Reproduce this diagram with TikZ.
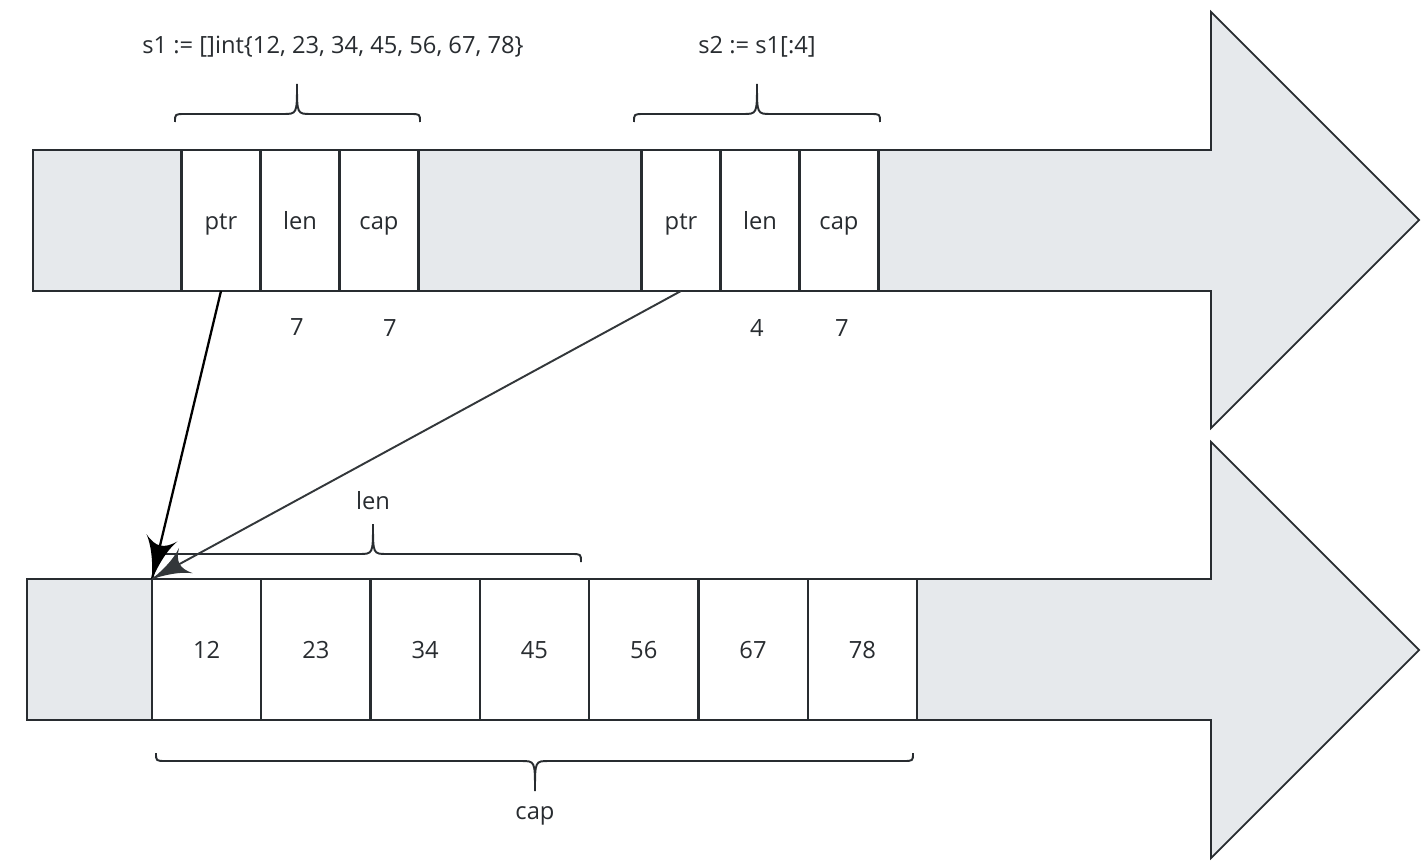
\documentclass[tikz,border=0pt]{standalone}
\usepackage{fontspec}
\setmainfont{Open Sans}
\usetikzlibrary{arrows}
\usetikzlibrary{decorations.markings}
\usetikzlibrary{positioning}
\definecolor{slicegrey}{RGB}{230,233,236}
\definecolor{ink}{RGB}{40,44,48}
\tikzset{ptrto/.style = {decoration={markings,
                                     mark=at position 1 with {\arrow[scale=3.6]{latex'}}},
                         postaction={decorate}}}
\tikzset{hdr/.style = {draw=ink, line width=1.25pt, fill=white, inner sep=0, outer sep=0,
                       minimum width=1.58cm, minimum height=2.82cm,
                       text height=11.5pt, text depth=1.5pt,
                       font=\fontsize{13.5}{16}\selectfont, text=ink}}
\tikzset{elem/.style = {hdr, minimum width=2.186cm}}
\tikzset{lbl/.style = {font=\fontsize{13.5}{16}\selectfont, text=ink}}
\tikzset{band/.style = {draw=ink, line width=1pt, fill=slicegrey}}
\tikzset{curly/.style = {draw=ink, line width=1.1pt}}
% brace: left x, right x, middle x, base y, direction (-1 up, 1 down)
\newcommand{\slicebrace}[5]{%
  \draw [curly] (#1,#4) .. controls (#1,{#4+(#5)*8}) .. (#1+10,{#4+(#5)*8})
    -- (#3-14,{#4+(#5)*8}) .. controls (#3,{#4+(#5)*8}) .. (#3,{#4+(#5)*38})
    .. controls (#3,{#4+(#5)*8}) .. (#3+14,{#4+(#5)*8})
    -- (#2-10,{#4+(#5)*8}) .. controls (#2,{#4+(#5)*8}) .. (#2,#4);}

\begin{document}
\begin{tikzpicture}[x=0.02cm, y=-0.02cm]
      \useasboundingbox (0,0) rectangle (1423,865);
      \draw [band] (33,150) -- (1211,150) -- (1211,12) -- (1419,220) -- (1211,428)
                   -- (1211,291) -- (33,291) -- cycle;
      \draw [band] (27,579) -- (1211,579) -- (1211,442) -- (1419,650) -- (1211,858)
                   -- (1211,720) -- (27,720) -- cycle;
      % s1 header
      \node [hdr] (s1ptr) at (221,220.5) {ptr};
      \node [hdr, right=0pt of s1ptr] (s1len) {len};
      \node [hdr, right=0pt of s1len] (s1cap) {cap};
      \node [lbl] (s1lenv) at (297,327) {7};
      \node [lbl] (s1capv) at (390,328) {7};
      \node [lbl] (s1code) at (333,47) {s1 := []int\{12, 23, 34, 45, 56, 67, 78\}};
      \slicebrace{175}{420}{297}{122}{-1}
      % s2 header
      \node [hdr] (s2ptr) at (681,220.5) {ptr};
      \node [hdr, right=0pt of s2ptr] (s2len) {len};
      \node [hdr, right=0pt of s2len] (s2cap) {cap};
      \node [lbl] (s2lenv) at (757,328) {4};
      \node [lbl] (s2capv) at (842,328) {7};
      \node [lbl] (s2code) at (757,47) {s2 := s1[:4]};
      \slicebrace{634}{880}{757}{122}{-1}
      % backing array
      \node [elem] (e1) at (206.65,649.5) {12};
      \node [elem, right=0pt of e1] (e2) {23};
      \node [elem, right=0pt of e2] (e3) {34};
      \node [elem, right=0pt of e3] (e4) {45};
      \node [elem, right=0pt of e4] (e5) {56};
      \node [elem, right=0pt of e5] (e6) {67};
      \node [elem, right=0pt of e6] (e7) {78};
      \slicebrace{156}{581}{373}{562}{-1}
      \node [lbl] (lenlbl) at (373,501) {len};
      \slicebrace{156}{913}{535}{753}{1}
      \node [lbl] (caplbl) at (535,816) {cap};
      % pointers
      \draw [ptrto, color=black, line width=1.3pt] (s1ptr.south) -- (e1.north west);
      \draw [ptrto, color=ink!95, line width=1.1pt] (s2ptr.south) -- (e1.north west);
    \end{tikzpicture}
\end{document}
